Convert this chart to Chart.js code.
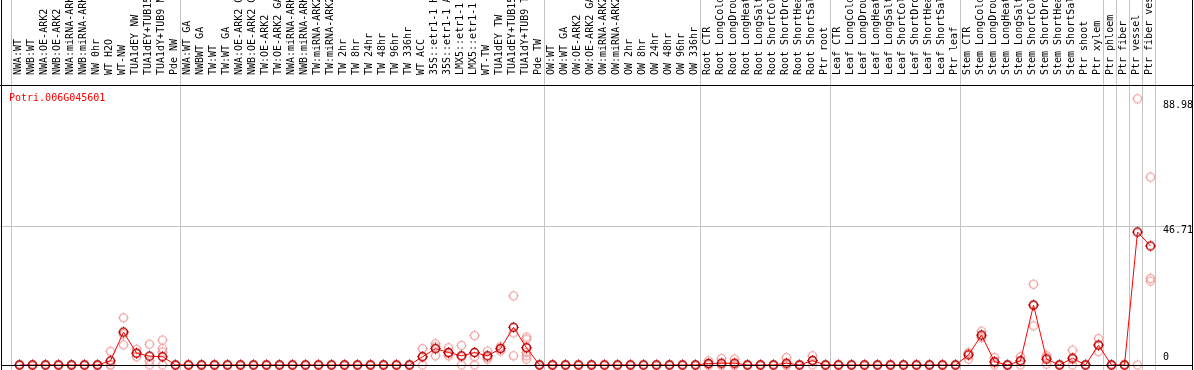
<!DOCTYPE html>
<html>
<head>
<meta charset="utf-8">
<style>
  html, body { margin: 0; padding: 0; background: #fff; }
  canvas { display: block; }
</style>
<script src="https://cdn.jsdelivr.net/npm/chart.js@4.4.1/dist/chart.umd.min.js"></script>
</head>
<body>
<canvas id="chart" width="1194" height="370"></canvas>
<script>
// -------------------------------
// Data
// -------------------------------
const geneName = "Potri.006G045601";

const samples = [
    // NW
    "NWA:WT", "NWB:WT", "NWA:OE-ARK2", "NWB:OE-ARK2", "NWA:miRNA-ARK2", "NWB:miRNA-ARK2",
    "NW 0hr", "WT H2O", "WT-NW", "TUA1dEY NW", "TUA1dEY+TUB15", "TUA1dY+TUB9 NW", "Pde NW",
    // TW
    "NWA:WT GA", "NWBWT GA", "TW:WT", "TW:WT GA", "NWA:OE-ARK2 GA", "NWB:OE-ARK2 GA",
    "TW:OE-ARK2", "TW:OE-ARK2 GA", "NWA:miRNA-ARK2", "NWB:miRNA-ARK2", "TW:miRNA-ARK2", "TW:miRNA-ARK2",
    "TW 2hr", "TW 8hr", "TW 24hr", "TW 48hr", "TW 96hr", "TW 336hr", "WT ACC",
    "35S::etr1-1 H2O", "35S::etr1-1 ACC", "LMX5::etr1-1 H2O", "LMX5::etr1-1 ACC",
    "WT-TW", "TUA1dEY TW", "TUA1dEY+TUB15", "TUA1dY+TUB9 TW", "Pde TW",
    // OW
    "OW:WT", "OW:WT GA", "OW:OE-ARK2", "OW:OE-ARK2 GA", "OW:miRNA-ARK2", "OW:miRNA-ARK2",
    "OW 2hr", "OW 8hr", "OW 24hr", "OW 48hr", "OW 96hr", "OW 336hr",
    // Root
    "Root CTR", "Root LongCold", "Root LongDrought", "Root LongHeat", "Root LongSalt",
    "Root ShortCold", "Root ShortDrought", "Root ShortHeat", "Root ShortSalt", "Ptr root",
    // Leaf
    "Leaf CTR", "Leaf LongCold", "Leaf LongDrought", "Leaf LongHeat", "Leaf LongSalt",
    "Leaf ShortCold", "Leaf ShortDrought", "Leaf ShortHeat", "Leaf ShortSalt", "Ptr leaf",
    // Stem
    "Stem CTR", "Stem LongCold", "Stem LongDrought", "Stem LongHeat", "Stem LongSalt",
    "Stem ShortCold", "Stem ShortDrought", "Stem ShortHeat", "Stem ShortSalt", "Ptr shoot", "Ptr xylem",
    // single tissues
    "Ptr phloem", "Ptr fiber", "Ptr vessel", "Ptr fiber vessel"
];

// mean expression per sample (red line)
const meanValues = [
    0, 0, 0, 0, 0, 0, 0, 1.4, 11.1, 4.0, 3.0, 2.8, 0,
    0, 0, 0, 0, 0, 0, 0, 0, 0, 0, 0, 0, 0, 0, 0, 0, 0, 0,
    2.8, 5.5, 4.2, 3.1, 4.2, 3.1, 5.5, 12.7, 5.8, 0,
    0, 0, 0, 0, 0, 0, 0, 0, 0, 0, 0, 0,
    0.5, 0.6, 0.6, 0, 0, 0, 0.6, 0, 1.5, 0,
    0, 0, 0, 0, 0, 0, 0, 0, 0, 0,
    3.4, 10.1, 1.1, 0, 1.4, 20.2, 2.0, 0, 2.3, 0, 6.7,
    0, 0, 44.8, 40.1
];

// individual replicates per sample (pale circles)
const replicateValues = [
    [0, 0, 0], [0, 0, 0], [0, 0, 0], [0, 0, 0], [0, 0, 0], [0, 0, 0], [0, 0, 0],
    [4.6, 0, 0], [15.9, 10.4, 6.8], [5.3, 4.0, 2.8], [7.0, 1.4, 0], [8.4, 5.5, 4.4, 0], [0, 0, 0],

    [0, 0, 0], [0, 0, 0], [0, 0, 0], [0, 0, 0], [0, 0, 0], [0, 0, 0],
    [0, 0, 0], [0, 0, 0], [0, 0, 0], [0, 0, 0], [0, 0, 0], [0, 0, 0],
    [0, 0, 0], [0, 0, 0], [0, 0, 0], [0, 0, 0], [0, 0, 0], [0, 0, 0],
    [5.5, 2.8, 0], [7.2, 6.2, 3.1], [5.8, 3.8, 3.1], [6.6, 2.8, 0], [9.9, 2.8, 0],
    [4.7, 2.6, 2.0], [6.2, 5.6, 4.7], [23.3, 10.8, 3.1], [9.4, 8.7, 5.9, 4.2, 3.1, 2.0], [0, 0, 0],

    [0, 0, 0], [0, 0, 0], [0, 0, 0], [0, 0, 0], [0, 0, 0], [0, 0, 0],
    [0, 0, 0], [0, 0, 0], [0, 0, 0], [0, 0, 0], [0, 0, 0], [0, 0, 0],

    [1.4, 0, 0], [2.2, 0, 0], [2.0, 0, 0], [0, 0, 0], [0, 0, 0],
    [0, 0, 0], [2.5, 0, 0], [0, 0, 0], [3.1, 1.4, 0], [0, 0, 0],

    [0, 0, 0], [0, 0, 0], [0, 0, 0], [0, 0, 0], [0, 0, 0],
    [0, 0, 0], [0, 0, 0], [0, 0, 0], [0, 0, 0], [0, 0, 0],

    [4.2, 3.9, 2.0], [11.4, 9.7, 9.2], [2.5, 0.8, 0], [0, 0, 0], [2.8, 1.4, 0],
    [27.2, 20.2, 13.2], [3.1, 2.6, 0.3], [0, 0, 0], [5.0, 1.9, 0], [0, 0, 0], [8.9, 6.7, 4.5],

    [0, 0, 0], [0, 0, 0], [89.7, 0], [63.3, 29.2, 28.3]
];

// last sample index of each group (-1 = line before the first sample)
const groupEnds = [-1, 12, 40, 52, 62, 72, 83, 84, 85, 86, 87];

const yTicks = [88.98, 46.71, 0];
const yGridValues = [46.71];
const yMax = 94;

// -------------------------------
// Markers
// -------------------------------
function makeMarker(ring, tick, width) {
    const c = document.createElement("canvas");
    c.width = 13;
    c.height = 13;
    const g = c.getContext("2d");
    g.strokeStyle = ring;
    g.lineWidth = width;
    g.beginPath();
    g.arc(6.5, 6.5, 4, 0, Math.PI * 2);
    g.stroke();
    g.fillStyle = tick;
    g.fillRect(6, 1, 1, 1.5);
    g.fillRect(6, 10.5, 1, 1.5);
    g.fillRect(1, 6, 1.5, 1);
    g.fillRect(10.5, 6, 1.5, 1);
    return c;
}

const meanMarker = makeMarker("#b00000", "#e00000", 1.5);
const repMarker = makeMarker("#f09a9a", "#f4b0b0", 1.2);

// -------------------------------
// Frame, separators, labels
// -------------------------------
const framePlugin = {
    id: "frame",
    beforeDatasetsDraw(chart) {
        const { ctx, scales: { x, y } } = chart;
        const step = x.getPixelForValue(1) - x.getPixelForValue(0);
        ctx.save();
        ctx.fillStyle = "#c4c4c4";
        groupEnds.forEach(k => {
            const px = Math.floor(x.getPixelForValue(0) + k * step + 5);
            ctx.fillRect(px, 0, 1, chart.height);
        });
        yGridValues.forEach(v => {
            ctx.fillRect(0, Math.floor(y.getPixelForValue(v)), 1193, 1);
        });
        ctx.restore();
    },
    afterDatasetsDraw(chart) {
        const { ctx, chartArea: a } = chart;
        ctx.save();
        ctx.fillStyle = "#000";
        ctx.fillRect(0, a.top - 1, chart.width, 1);        // top
        ctx.fillRect(1, 0, 1, chart.height);               // left
        ctx.fillRect(1192, 0, 1, chart.height);            // right
        ctx.fillRect(1, Math.floor(a.bottom), 1192, 1);    // bottom
        ctx.restore();
    },
    afterDraw(chart) {
        const { ctx, chartArea: a, scales: { y } } = chart;
        ctx.save();
        ctx.font = "10px 'DejaVu Sans Mono'";
        ctx.fillStyle = "#ff0000";
        ctx.textBaseline = "alphabetic";
        ctx.fillText(geneName, a.left - 4, a.top + 15);

        ctx.fillStyle = "#000";
        ctx.textBaseline = "middle";
        yTicks.forEach(v => {
            const py = y.getPixelForValue(v) + (v === 0 ? -7.5 : 4.5);
            ctx.fillText(String(v), a.right + 6, py);
        });
        ctx.restore();
    }
};

// -------------------------------
// Chart
// -------------------------------
const repCount = Math.max(...replicateValues.map(r => r.length));
const repDatasets = [];
for (let j = 0; j < repCount; j++) {
    repDatasets.push({
        label: "rep " + (j + 1),
        data: replicateValues.map(r => (j < r.length ? r[j] : null)),
        showLine: false,
        pointStyle: repMarker,
        pointRadius: 4,
        clip: false
    });
}

new Chart(document.getElementById("chart"), {
    type: "line",
    data: {
        labels: samples,
        datasets: [
            {
                label: geneName,
                data: meanValues,
                borderColor: "#ff0000",
                borderWidth: 1,
                tension: 0,
                pointStyle: meanMarker,
                pointRadius: 4,
                clip: false
            },
            ...repDatasets
        ]
    },
    options: {
        responsive: false,
        animation: false,
        layout: { padding: { left: 13, right: 37, top: 0, bottom: 0.5 } },
        plugins: {
            legend: { display: false },
            tooltip: { enabled: false }
        },
        scales: {
            x: {
                type: "category",
                position: "top",
                offset: true,
                grid: { display: false },
                border: { display: false },
                ticks: {
                    autoSkip: false,
                    minRotation: 90,
                    maxRotation: 90,
                    padding: 3,
                    labelOffset: 11,
                    color: "#000",
                    font: { family: "'DejaVu Sans Mono'", size: 10 }
                },
                afterFit: s => {
                    s.height = 86;
                    s.paddingLeft = 0;
                    s.paddingRight = 0;
                }
            },
            y: {
                display: false,
                min: 0,
                max: yMax
            }
        }
    },
    plugins: [framePlugin]
});
</script>
</body>
</html>
